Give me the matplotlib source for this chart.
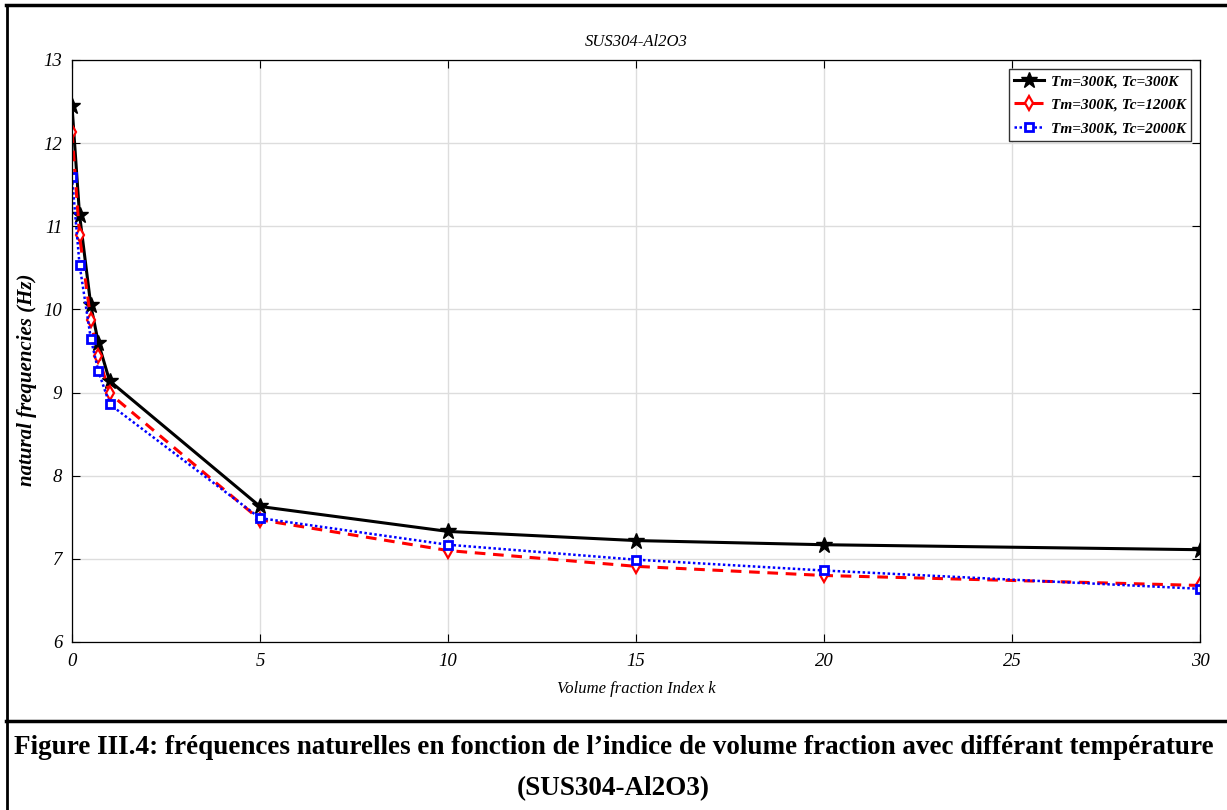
import numpy as np
import matplotlib
matplotlib.use("Agg")
import matplotlib.pyplot as plt
from matplotlib.lines import Line2D

plt.rcParams['font.family'] = ['Liberation Serif', 'DejaVu Serif']

# volume fraction index k
k = [0, 0.2, 0.5, 0.7, 1, 5, 10, 15, 20, 30]

# natural frequencies (Hz) for each temperature pair
f_300 = [12.45, 11.14, 10.05, 9.60, 9.14, 7.63, 7.33, 7.22, 7.17, 7.11]
f_1200 = [12.13, 10.89, 9.87, 9.44, 8.99, 7.47, 7.10, 6.91, 6.80, 6.68]
f_2000 = [11.59, 10.54, 9.65, 9.26, 8.86, 7.49, 7.17, 6.99, 6.86, 6.64]

labels = ["Tm=300K, Tc=300K", "Tm=300K, Tc=1200K", "Tm=300K, Tc=2000K"]
xticks = [0, 5, 10, 15, 20, 25, 30]
yticks = [6, 7, 8, 9, 10, 11, 12, 13]

fig = plt.figure(figsize=(12.27, 8.10), dpi=100)
ax = fig.add_axes([72 / 1227, 1 - 642 / 810, 1128 / 1227, 582 / 810])

ax.plot(k, f_300, color='black', lw=2.2, marker='*', ms=12, label=labels[0])
ax.plot(k, f_1200, color='red', lw=2.2, ls=(0, (3.5, 2.5)), marker='d', ms=7.5,
        mfc='white', mec='red', mew=1.6, label=labels[1])
ax.plot(k, f_2000, color='blue', lw=1.8, ls=(0, (1, 1)), marker='s', ms=6,
        mfc='white', mec='blue', mew=2, label=labels[2])

ax.set_xlim(0, 30)
ax.set_ylim(6, 13)
ax.set_xticks(xticks)
ax.set_yticks(yticks)
ax.set_xticklabels([str(t) for t in xticks], fontstyle='italic', fontsize=13.5)
ax.set_yticklabels([str(t) for t in yticks], fontstyle='italic', fontsize=13.5)
ax.tick_params(direction='in', top=True, right=True, length=6, width=0.8, pad=8)
ax.tick_params(axis='y', pad=7)
ax.grid(True, color='#dddddd', lw=1)
ax.set_axisbelow(True)
for s in ax.spines.values():
    s.set_linewidth(0.9)

ax.set_title("SUS304-Al2O3", fontstyle='italic', fontsize=12, pad=10)
ax.set_xlabel("Volume fraction Index k", fontstyle='italic', fontsize=12, labelpad=8)
ax.set_ylabel("natural frequencies (Hz)", fontstyle='italic', fontweight='bold',
              fontsize=15)
ax.yaxis.label.set_va('center')
ax.yaxis.set_label_coords(-45 / 1128, (642 - 380) / 582)

leg = ax.legend(loc='upper right', fontsize=11, handlelength=2.0,
                borderaxespad=0.6, fancybox=False, edgecolor='#333333',
                framealpha=1, borderpad=0.35, labelspacing=0.65, handletextpad=0.4)
for t in leg.get_texts():
    t.set_fontstyle('italic')
    t.set_fontweight('bold')
leg.get_frame().set_linewidth(1)

# document frame around the figure and caption
fig.add_artist(Line2D([6 / 1227, 1], [1 - 5 / 810, 1 - 5 / 810], color='black', lw=2.5))
fig.add_artist(Line2D([7 / 1227, 7 / 1227], [0, 1 - 5 / 810], color='black', lw=2))
fig.add_artist(Line2D([6 / 1227, 1], [1 - 721 / 810, 1 - 721 / 810], color='black', lw=2.5))

fig.text(0.5, 1 - 748 / 810, "Figure III.4: fréquences naturelles en fonction de l\u2019indice de volume fraction avec différant température",
         ha='center', va='center', fontweight='bold', fontsize=19.5)
fig.text(0.5, 1 - 789 / 810, "(SUS304-Al2O3)", ha='center', va='center',
         fontweight='bold', fontsize=19.5)

fig.savefig("out.png", dpi=100)
